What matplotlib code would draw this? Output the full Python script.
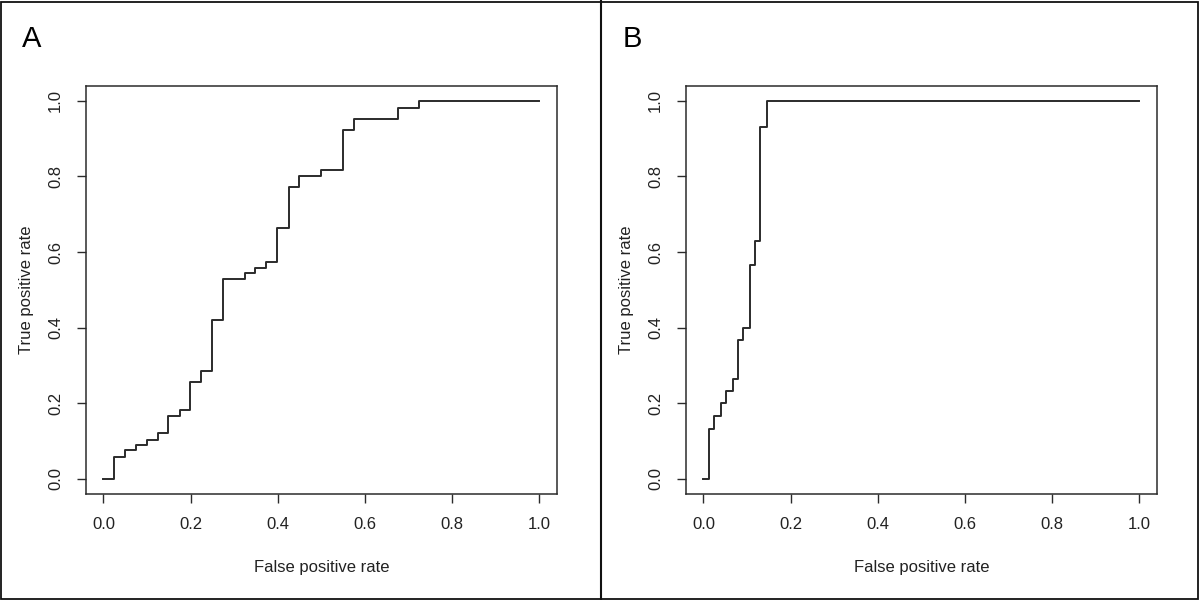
import matplotlib.pyplot as plt
from matplotlib.lines import Line2D
from matplotlib.patches import Rectangle

plt.rcParams['font.family'] = ['Liberation Sans', 'DejaVu Sans']

# ROC step vertices (fpr, tpr after each jump)
fpr_a = [0, 0.025, 0.049, 0.074, 0.100, 0.125, 0.149, 0.175, 0.198, 0.225,
         0.249, 0.274, 0.326, 0.349, 0.374, 0.398, 0.425, 0.450, 0.499,
         0.550, 0.575, 0.676, 0.724, 1.0]
tpr_a = [0, 0.059, 0.077, 0.090, 0.104, 0.122, 0.166, 0.181, 0.256, 0.286,
         0.421, 0.530, 0.544, 0.559, 0.574, 0.664, 0.771, 0.801, 0.816,
         0.922, 0.951, 0.981, 1.0, 1.0]

fpr_b = [0, 0.012, 0.025, 0.040, 0.052, 0.067, 0.079, 0.091, 0.106, 0.118,
         0.131, 0.146, 1.0]
tpr_b = [0, 0.132, 0.166, 0.200, 0.232, 0.264, 0.367, 0.399, 0.566, 0.630,
         0.931, 1.0, 1.0]

ticks = [0.0, 0.2, 0.4, 0.6, 0.8, 1.0]
tick_labels = ['0.0', '0.2', '0.4', '0.6', '0.8', '1.0']
panels = [('A', fpr_a, tpr_a), ('B', fpr_b, tpr_b)]

W, H = 1200, 600
fig = plt.figure(figsize=(12, 6), dpi=100)

ink = '#2b2b2b'
for i, (name, x, y) in enumerate(panels):
    left = 86 + i * 600
    ax = fig.add_axes([left / W, 106 / H, 470.5 / W, 408.3 / H])
    ax.step(x, y, where='post', color=ink, lw=1.4)
    ax.set_xlim(-0.04, 1.04)
    ax.set_ylim(-0.04, 1.04)
    ax.set_xticks(ticks, tick_labels)
    ax.set_yticks(ticks, tick_labels)
    for s in ax.spines.values():
        s.set_color(ink)
        s.set_linewidth(1.1)
    ax.tick_params(direction='out', length=6.5, width=1.0, color=ink,
                   labelsize=12, labelcolor='#222222', pad=10)
    plt.setp(ax.get_yticklabels(), rotation=90, va='center')
    ax.set_xlabel('False positive rate', fontsize=12, color='#222222', va='center')
    ax.set_ylabel('True positive rate', fontsize=12, color='#222222', va='center')
    ax.xaxis.set_label_coords(0.5, -0.179)
    ax.yaxis.set_label_coords(-0.1275, 0.5)
    fig.text((32 + i * 600) / W, 1 - 39 / H, name, fontsize=21,
             ha='center', va='center', color='black')

# outer frame and divider between the panels
fig.add_artist(Rectangle((1 / W, 1 / H), 1197 / W, 597.5 / H, transform=fig.transFigure,
                         fill=False, edgecolor='#111111', lw=1.3))
fig.add_artist(Line2D([601 / W, 601 / W], [0, 1], transform=fig.transFigure,
                      color='#111111', lw=1.5))

fig.savefig('out.png', dpi=100)
